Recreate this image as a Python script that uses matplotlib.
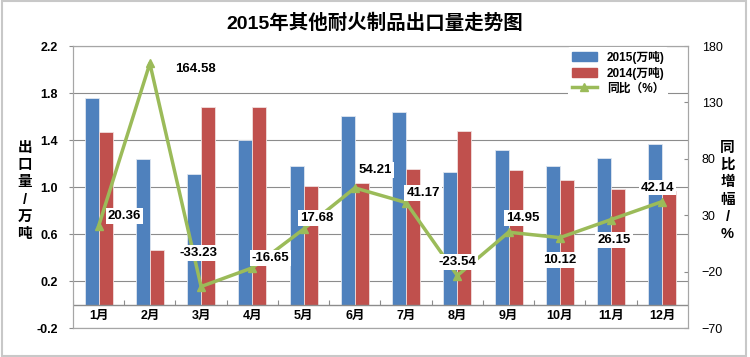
import numpy as np
import matplotlib
matplotlib.use("Agg")
import matplotlib.pyplot as plt
from matplotlib.patches import Rectangle, Patch
from matplotlib.lines import Line2D
from matplotlib.ticker import FuncFormatter

plt.rcParams['font.family'] = ['Liberation Sans', 'Noto Sans CJK SC', 'DejaVu Sans']
plt.rcParams['axes.unicode_minus'] = False

months = ["1月", "2月", "3月", "4月", "5月", "6月", "7月", "8月", "9月", "10月", "11月", "12月"]
export_2015 = [1.76, 1.235, 1.11, 1.40, 1.18, 1.607, 1.636, 1.125, 1.315, 1.176, 1.244, 1.363]
export_2014 = [1.465, 0.466, 1.678, 1.678, 1.006, 1.034, 1.153, 1.477, 1.145, 1.062, 0.986, 0.963]
yoy_pct = [20.36, 164.58, -33.23, -16.65, 17.68, 54.21, 41.17, -23.54, 14.95, 10.12, 26.15, 42.14]

# label offsets in pixels (dx, dy), dy up
label_offsets = [(26, 10), (46, -6), (-3, 34), (18, 10), (13, 11), (20, 18),
                 (17, 10), (0, 14), (14, 14), (0, -22), (3, -20), (-5, 14)]

blue = "#4F81BD"
red = "#C0504D"
green = "#9BBB59"
gray = "#8c8c8c"

fig = plt.figure(figsize=(7.5, 3.57), dpi=100)
ax = fig.add_axes([0.0973, 0.0812, 0.82, 0.7899])
ax2 = ax.twinx()

x = np.arange(len(months))
w = 0.275
ax.bar(x - w / 2, export_2015, w, color=blue, edgecolor="#dfe6f0", linewidth=0.6, zorder=2)
ax.bar(x + w / 2, export_2014, w, color=red, edgecolor="#f0dede", linewidth=0.6, zorder=2)

ax.set_xlim(-0.5, len(months) - 0.5)
ax.set_ylim(-0.2, 2.2)
ax.set_yticks(np.arange(-0.2, 2.21, 0.4))
ax.yaxis.set_major_formatter(FuncFormatter(lambda v, p: f"{v:.1f}"))
ax.set_xticks([])
ax.grid(axis="y", color=gray, linewidth=0.8, zorder=0)
ax.axhline(0, color=gray, linewidth=1, zorder=3)
ax.vlines(np.arange(len(months) + 1) - 0.5, 0, 0.04, color=gray, linewidth=0.8, zorder=3)
for i, m in enumerate(months):
    ax.text(i, -0.1, m, ha="center", va="center", fontsize=9, fontweight="bold")
ax.tick_params(axis="y", labelsize=9, length=3, color=gray, pad=8)
for lab in ax.get_yticklabels():
    lab.set_fontweight("bold")
for s in ax.spines.values():
    s.set_color("#a6a6a6")
for s in ax2.spines.values():
    s.set_color("#a6a6a6")

ax2.plot(x, yoy_pct, color=green, linewidth=2.5, marker="^", markersize=6, zorder=4)
ax2.set_ylim(-70, 180)
ax2.set_yticks(np.arange(-70, 181, 50))
ax2.yaxis.set_major_formatter(FuncFormatter(lambda v, p: f"{v:.0f}".replace("-", "\u2212")))
ax2.tick_params(axis="y", labelsize=9, length=3, direction="in", color=gray, pad=10)

for i, v in enumerate(yoy_pct):
    dx, dy = label_offsets[i]
    box = None if i == 1 else dict(boxstyle="square,pad=0.15", facecolor="white", edgecolor="none")
    ax2.annotate(f"{v:.2f}", (i, v), xytext=(dx, dy), textcoords="offset pixels",
                 ha="center", va="center", fontsize=9.5, fontweight="bold", bbox=box, zorder=5)

handles = [Patch(facecolor=blue, edgecolor=blue), Patch(facecolor=red, edgecolor=red),
           Line2D([0], [0], color=green, linewidth=2.5, marker="^", markersize=6)]
leg = ax2.legend(handles, ["2015(万吨)", "2014(万吨)", "同比（%）"], loc="upper right",
                 bbox_to_anchor=(0.97, 1.0), fontsize=8.5, frameon=True, framealpha=1,
                 edgecolor="none", handlelength=2.2, handleheight=0.8, labelspacing=0.25,
                 borderpad=0.3, borderaxespad=0.1)
for t in leg.get_texts():
    t.set_fontweight("bold")

fig.text(0.5, 0.935, "2015年其他耐火制品出口量走势图", ha="center", va="center",
         fontsize=14, fontweight="black")
fig.text(0.033, 0.465, "\n".join("出口量/万吨"), ha="center", va="center",
         fontsize=10.5, fontweight="black", linespacing=1.3)
fig.text(0.97, 0.465, "\n".join("同比增幅/%"), ha="center", va="center",
         fontsize=10.5, fontweight="black", linespacing=1.3)

fig.add_artist(Rectangle((0.003, 0.004), 0.992, 0.993, transform=fig.transFigure,
                         fill=False, edgecolor="#c8c8c8", linewidth=1.5))

fig.savefig("out.png", dpi=100)
